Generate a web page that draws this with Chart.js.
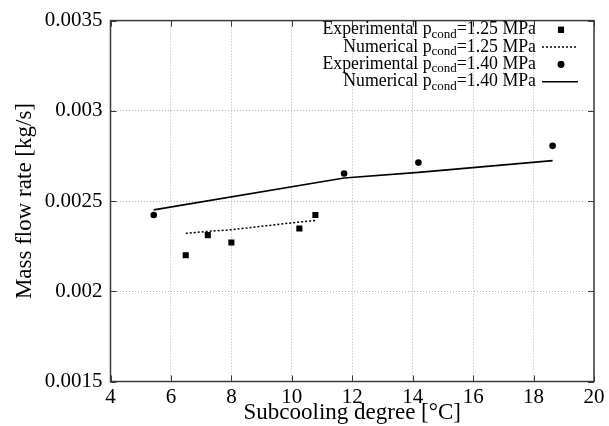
<!DOCTYPE html>
<html>
<head>
<meta charset="utf-8">
<title>Mass flow rate vs subcooling degree</title>
<script src="https://cdn.jsdelivr.net/npm/chart.js@4.4.1/dist/chart.umd.min.js"></script>
<style>
    html, body { margin: 0; padding: 0; background: #fff; }
    #wrap { width: 609px; height: 426px; }
</style>
</head>
<body>
<div id="wrap"><canvas id="flowChart" width="609" height="426"></canvas></div>
<script>
// ─── DATA ───
const expLowX = [6.49, 7.22, 8.0, 10.25, 10.78];
const expLowY = [0.00220, 0.002311, 0.00227, 0.002348, 0.002423];
const numLowX = [6.49, 7.22, 8.0, 10.25, 10.78];
const numLowY = [0.002321, 0.002332, 0.002341, 0.002384, 0.002392];
const expHighX = [5.43, 11.73, 14.19, 18.63];
const expHighY = [0.002423, 0.002653, 0.002713, 0.002806];
const numHighX = [5.43, 11.73, 14.19, 18.63];
const numHighY = [0.002451, 0.002628, 0.002659, 0.002724];

const seriesLabels = [
    'Experimental p_{cond}=1.25 MPa',
    'Numerical p_{cond}=1.25 MPa',
    'Experimental p_{cond}=1.40 MPa',
    'Numerical p_{cond}=1.40 MPa'
];
const xTickValues = [4, 6, 8, 10, 12, 14, 16, 18, 20];
const yTickValues = [0.0015, 0.002, 0.0025, 0.003, 0.0035];
const yTickLabels = ['0.0015', '0.002', '0.0025', '0.003', '0.0035'];
const xTitle = 'Subcooling degree [°C]';
const yTitle = 'Mass flow rate [kg/s]';

const SERIF = "'Liberation Serif', 'Times New Roman', serif";
const toPoints = (xs, ys) => xs.map((x, i) => ({ x, y: ys[i] }));

// ─── FRAME + INWARD TICKS (gnuplot style) ───
const framePlugin = {
    id: 'frame',
    afterDatasetsDraw(chart) {
        const { ctx, chartArea: a, scales } = chart;
        ctx.save();
        ctx.strokeStyle = '#3a3a3a';
        ctx.lineWidth = 1;
        ctx.beginPath();
        xTickValues.forEach(v => {
            const px = Math.round(scales.x.getPixelForValue(v)) + 0.5;
            ctx.moveTo(px, a.bottom); ctx.lineTo(px, a.bottom - 6);
            ctx.moveTo(px, a.top); ctx.lineTo(px, a.top + 6);
        });
        yTickValues.forEach(v => {
            const py = Math.round(scales.y.getPixelForValue(v)) + 0.5;
            ctx.moveTo(a.left, py); ctx.lineTo(a.left + 6, py);
            ctx.moveTo(a.right, py); ctx.lineTo(a.right - 6, py);
        });
        ctx.stroke();
        ctx.lineWidth = 1.5;
        ctx.strokeRect(a.left, a.top, a.right - a.left, a.bottom - a.top);
        ctx.restore();
    }
};

// ─── LEGEND (right aligned text, sample on the right, subscripts) ───
const legendPlugin = {
    id: 'gpLegend',
    afterDraw(chart) {
        const { ctx } = chart;
        const textRight = 536, sampleL = 542, sampleR = 578, sampleX = 561;
        const mainFont = '17.8px ' + SERIF, subFont = '13px ' + SERIF;
        ctx.save();
        ctx.fillStyle = '#000';
        ctx.textBaseline = 'alphabetic';
        chart.data.datasets.forEach((ds, i) => {
            const base = 34.3 + i * 17.3;
            const m = ds.label.match(/^(.*?)_\{(.*?)\}(.*)$/);
            const parts = m ? [[m[1], mainFont, 0], [m[2], subFont, 3.5], [m[3], mainFont, 0]] : [[ds.label, mainFont, 0]];
            let w = 0;
            parts.forEach(p => { ctx.font = p[1]; w += ctx.measureText(p[0]).width; });
            let x = textRight - w;
            parts.forEach(p => {
                ctx.font = p[1];
                ctx.fillText(p[0], x, base + p[2]);
                x += ctx.measureText(p[0]).width;
            });
            const cy = base - 4.5;
            if (ds.showLine) {
                ctx.strokeStyle = ds.borderColor;
                ctx.lineWidth = ds.borderWidth;
                ctx.setLineDash(ds.borderDash || []);
                ctx.beginPath();
                ctx.moveTo(sampleL, cy); ctx.lineTo(sampleR, cy);
                ctx.stroke();
                ctx.setLineDash([]);
            } else {
                Chart.helpers.drawPoint(ctx, {
                    pointStyle: ds.pointStyle, radius: ds.pointRadius, borderWidth: 0, rotation: 0
                }, sampleX, cy);
                ctx.fillStyle = ds.pointBackgroundColor;
                ctx.fill();
                ctx.fillStyle = '#000';
            }
        });
        ctx.restore();
    }
};

// ─── CHART ───
function initChart() {
    const el = document.getElementById('flowChart');
    new Chart(el, {
        type: 'scatter',
        data: {
            datasets: [
                { label: seriesLabels[0], data: toPoints(expLowX, expLowY), showLine: false,
                  pointStyle: 'rect', pointRadius: 4.3, pointBackgroundColor: '#000', pointBorderWidth: 0 },
                { label: seriesLabels[1], data: toPoints(numLowX, numLowY), showLine: true,
                  borderColor: '#000', borderWidth: 1.5, borderDash: [2, 2], pointRadius: 0, tension: 0 },
                { label: seriesLabels[2], data: toPoints(expHighX, expHighY), showLine: false,
                  pointStyle: 'circle', pointRadius: 3.3, pointBackgroundColor: '#000', pointBorderWidth: 0 },
                { label: seriesLabels[3], data: toPoints(numHighX, numHighY), showLine: true,
                  borderColor: '#000', borderWidth: 1.6, pointRadius: 0, tension: 0 }
            ]
        },
        options: {
            responsive: false,
            animation: false,
            devicePixelRatio: 1,
            layout: { padding: { top: 14.5, right: 15, bottom: 0, left: 0 } },
            plugins: { legend: { display: false }, tooltip: { enabled: false } },
            scales: {
                x: {
                    type: 'linear', min: 4, max: 20,
                    afterBuildTicks: s => { s.ticks = xTickValues.map(v => ({ value: v })); },
                    afterFit: s => { s.height = 44.5; },
                    grid: { color: '#b4b4b4', lineWidth: 1, drawTicks: false },
                    border: { display: false, dash: [1, 2] },
                    ticks: { color: '#000', padding: 3, maxRotation: 0, font: { family: SERIF, size: 21 } },
                    title: { display: true, text: xTitle, color: '#000', padding: 0,
                             font: { family: SERIF, size: 23, lineHeight: 1.1 } }
                },
                y: {
                    type: 'linear', min: 0.0015, max: 0.0035,
                    afterBuildTicks: s => { s.ticks = yTickValues.map(v => ({ value: v })); },
                    afterFit: s => { s.width = 110.5; },
                    grid: { color: '#b4b4b4', lineWidth: 1, drawTicks: false },
                    border: { display: false, dash: [1, 2] },
                    ticks: { color: '#000', padding: 8, font: { family: SERIF, size: 21 },
                             callback: (v, i) => yTickLabels[i] },
                    title: { display: true, text: yTitle, color: '#000', padding: { top: 12, bottom: 0 },
                             font: { family: SERIF, size: 23, lineHeight: 1.1 } }
                }
            }
        },
        plugins: [framePlugin, legendPlugin]
    });
}

document.addEventListener('DOMContentLoaded', initChart);
</script>
</body>
</html>
